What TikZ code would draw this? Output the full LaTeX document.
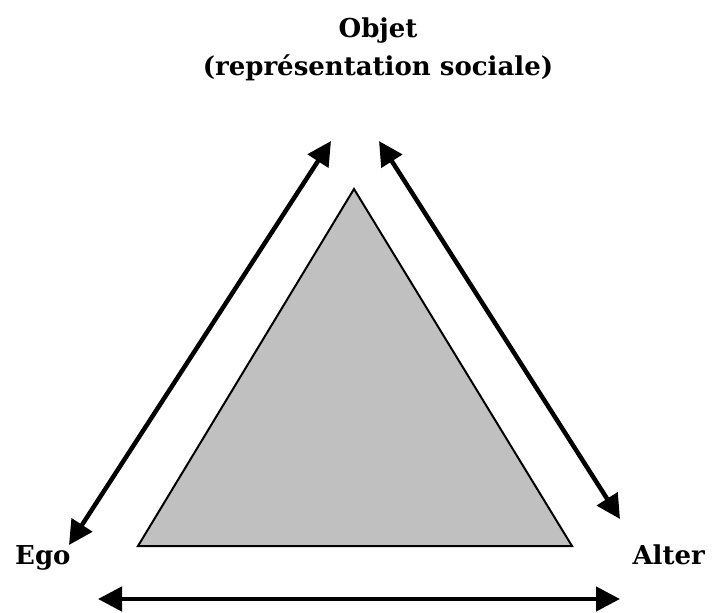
\documentclass[tikz,border=0pt]{standalone}
\usepackage{fontspec}
\setmainfont{DejaVu Serif}
\usetikzlibrary{arrows.meta}
\definecolor{trigray}{HTML}{C0C0C0}
\tikzset{
  lbl/.style={font=\fontsize{26}{38}\selectfont\bfseries, inner sep=0pt, align=center},
  dbl/.style={line width=4.5pt, {Triangle[length=24pt,width=24pt]}-{Triangle[length=24pt,width=24pt]}},
}
\begin{document}
\begin{tikzpicture}[x=1pt,y=-1pt]
\useasboundingbox (0,0) rectangle (713,613);
\node[lbl] (obj) at (378,49) {Objet\\(représentation sociale)};
\node[lbl, anchor=base west] (ego) at (15,564) {Ego};
\node[lbl, anchor=base east] (alter) at (705,564) {Alter};
\coordinate (A) at (354,189);
\coordinate (B) at (138,546);
\coordinate (C) at (572,546);
\draw[line width=2pt, fill=trigray, line join=miter] (A) -- (B) -- (C) -- cycle;
\coordinate (l1) at (69,545);
\coordinate (l2) at (331,141);
\coordinate (r1) at (379,141);
\coordinate (r2) at (620,519);
\coordinate (b1) at (98,599);
\coordinate (b2) at (620,599);
\draw[dbl] (l1) -- (l2);
\draw[dbl] (r1) -- (r2);
\draw[dbl] (b1) -- (b2);
\end{tikzpicture}
\end{document}
